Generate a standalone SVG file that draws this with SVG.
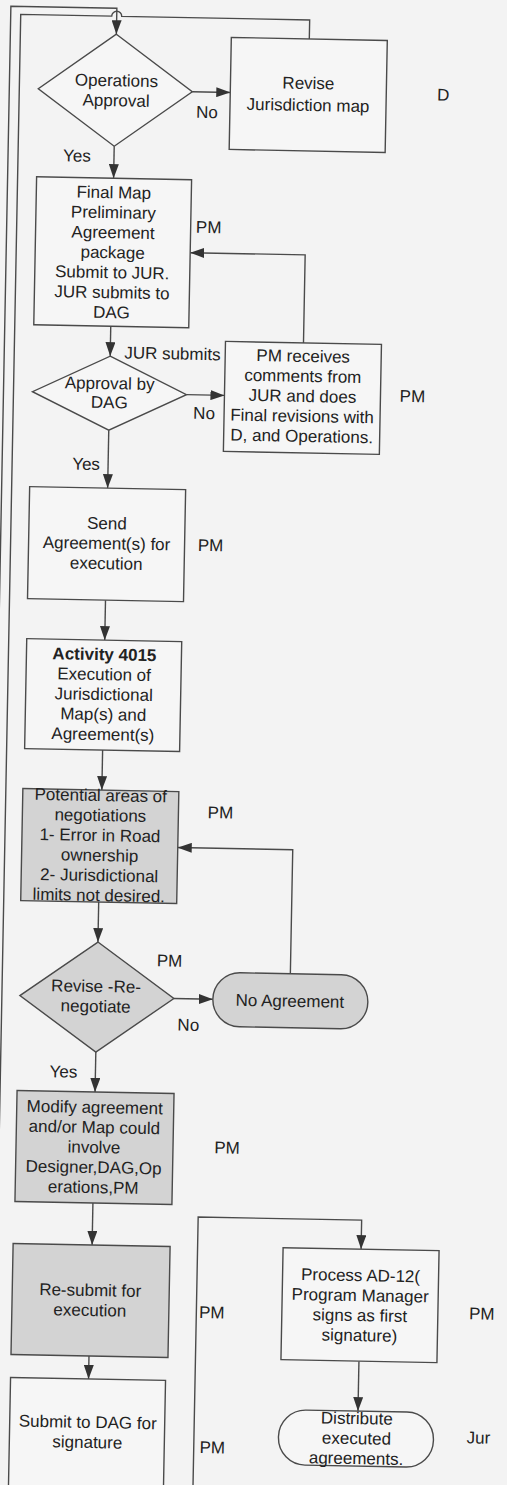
<svg xmlns="http://www.w3.org/2000/svg" width="507" height="1485" viewBox="0 0 507 1485">
<style>
.box{fill:#f6f6f6;stroke:#4a4a4a;stroke-width:1.4}
.gray{fill:#d3d3d3;stroke:#4a4a4a;stroke-width:1.4}
.t{font-family:"Liberation Sans",Arial,sans-serif;font-size:17px;fill:#222;text-anchor:middle}
.b{font-weight:bold}
.c{fill:none;stroke:#4a4a4a;stroke-width:1.4}
.a{marker-end:url(#ah)}
</style>
<defs>
<marker id="ah" markerWidth="14" markerHeight="10" refX="14" refY="5" orient="auto" markerUnits="userSpaceOnUse"><path d="M0,0 L14,5 L0,10 z" fill="#333"/></marker>
</defs>
<rect width="507" height="1485" fill="#f3f3f3"/>
<g transform="rotate(1.1)">
<g id="connectors">
<path class="c a" d="M117,144 V176"/>
<path class="c a" d="M194,88 H232"/>
<path class="c a" d="M117,324 V354"/>
<path class="c a" d="M194,391 H232"/>
<path class="c a" d="M310,337 V249 H195"/>
<path class="c a" d="M117,428 V486"/>
<path class="c a" d="M117,598 V638"/>
<path class="c a" d="M117,748 V788"/>
<path class="c a" d="M116,900 V940"/>
<path class="c a" d="M193,995 H232"/>
<path class="c a" d="M309,968 V844 H194"/>
<path class="c a" d="M116,1050 V1090"/>
<path class="c a" d="M116,1201 V1243"/>
<path class="c a" d="M115,1354 V1377"/>
<path class="c a" d="M221.5,1600 V1213 H385 V1242"/>
<path class="c a" d="M385,1354 V1404"/>
<path class="c a" d="M11,1600 V6 H117 V32"/>
<path class="c" d="M310,33 V14 H122 A5,5 0 0 0 112,14 H21 V1600"/>
<text class="t" x="209" y="114">No</text>
<text class="t" x="80" y="160">Yes</text>
<text class="t" x="131" y="356" style="text-anchor:start">JUR submits</text>
<text class="t" x="212" y="415">No</text>
<text class="t" x="95" y="468">Yes</text>
<text class="t" x="208" y="1027">No</text>
<text class="t" x="84" y="1076">Yes</text>
</g>
<g id="n-ops">
<polygon class="box" points="117,32 194,88 117,144 40,88"/>
<text class="t" x="118" y="84">Operations</text>
<text class="t" x="118" y="104">Approval</text>
</g>
<g id="n-revise">
<rect class="box" x="232" y="33" width="156" height="112"/>
<text class="t" x="310" y="83">Revise</text>
<text class="t" x="310" y="105">Jurisdiction map</text>
</g>
<g id="n-final">
<rect class="box" x="40" y="176" width="155" height="148"/>
<text class="t" x="117.5" y="196">Final Map</text>
<text class="t" x="117.5" y="216">Preliminary</text>
<text class="t" x="117.5" y="236">Agreement</text>
<text class="t" x="117.5" y="256">package</text>
<text class="t" x="117.5" y="276">Submit to JUR.</text>
<text class="t" x="117.5" y="296">JUR submits to</text>
<text class="t" x="117.5" y="316">DAG</text>
</g>
<g id="n-approval">
<polygon class="box" points="117,354 194,391 117,428 40,391"/>
<text class="t" x="117" y="387">Approval by</text>
<text class="t" x="117" y="406">DAG</text>
</g>
<g id="n-pmrec">
<rect class="box" x="232" y="337" width="156" height="110"/>
<text class="t" x="310" y="356">PM receives</text>
<text class="t" x="310" y="376">comments from</text>
<text class="t" x="310" y="396">JUR and does</text>
<text class="t" x="310" y="416">Final revisions with</text>
<text class="t" x="310" y="436">D, and Operations.</text>
</g>
<g id="n-send">
<rect class="box" x="39" y="486" width="156" height="112"/>
<text class="t" x="117" y="527">Send</text>
<text class="t" x="117" y="547">Agreement(s) for</text>
<text class="t" x="117" y="567">execution</text>
</g>
<g id="n-activity">
<rect class="box" x="39" y="638" width="155" height="110"/>
<text class="t b" x="117" y="658">Activity 4015</text>
<text class="t" x="117" y="678">Execution of</text>
<text class="t" x="117" y="698">Jurisdictional</text>
<text class="t" x="117" y="718">Map(s) and</text>
<text class="t" x="117" y="738">Agreement(s)</text>
</g>
<g id="n-potential">
<rect class="gray" x="38" y="788" width="156" height="112"/>
<text class="t" x="116" y="799">Potential areas of</text>
<text class="t" x="116" y="819">negotiations</text>
<text class="t" x="116" y="839">1- Error in Road</text>
<text class="t" x="116" y="859">ownership</text>
<text class="t" x="116" y="879">2- Jurisdictional</text>
<text class="t" x="116" y="899">limits not desired.</text>
</g>
<g id="n-renegotiate">
<polygon class="gray" points="116,940 193,995 116,1050 39,995"/>
<text class="t" x="115" y="990">Revise -Re-</text>
<text class="t" x="115" y="1010">negotiate</text>
</g>
<g id="n-noagreement">
<rect class="gray" x="232" y="968" width="155" height="54" rx="27"/>
<text class="t" x="309" y="1001">No Agreement</text>
</g>
<g id="n-modify">
<rect class="gray" x="38" y="1090" width="157" height="111"/>
<text class="t" x="116" y="1111">Modify agreement</text>
<text class="t" x="116" y="1131">and/or Map could</text>
<text class="t" x="116" y="1151">involve</text>
<text class="t" x="116" y="1171">Designer,DAG,Op</text>
<text class="t" x="116" y="1191">erations,PM</text>
</g>
<g id="n-resubmit">
<rect class="gray" x="37" y="1243" width="157" height="111"/>
<text class="t" x="115" y="1294">Re-submit for</text>
<text class="t" x="115" y="1314">execution</text>
</g>
<g id="n-submit">
<rect class="box" x="37" y="1377" width="155" height="150"/>
<text class="t" x="115" y="1426">Submit to DAG for</text>
<text class="t" x="115" y="1446">signature</text>
</g>
<g id="n-process">
<rect class="box" x="307" y="1242" width="156" height="112"/>
<text class="t" x="385" y="1274">Process AD-12(</text>
<text class="t" x="385" y="1294">Program Manager</text>
<text class="t" x="385" y="1314">signs as first</text>
<text class="t" x="385" y="1334">signature)</text>
</g>
<g id="n-distribute">
<rect class="box" x="306" y="1404" width="155" height="55" rx="27"/>
<text class="t" x="384" y="1417">Distribute</text>
<text class="t" x="384" y="1437">executed</text>
<text class="t" x="384" y="1457">agreements.</text>
</g>
<g id="roles">
<text class="t" x="445" y="92">D</text>
<text class="t" x="213" y="229">PM</text>
<text class="t" x="420" y="394">PM</text>
<text class="t" x="221" y="547">PM</text>
<text class="t" x="236" y="814">PM</text>
<text class="t" x="188" y="963">PM</text>
<text class="t" x="249" y="1149">PM</text>
<text class="t" x="237" y="1314">PM</text>
<text class="t" x="240" y="1449">PM</text>
<text class="t" x="507" y="1310">PM</text>
<text class="t" x="506" y="1434">Jur</text>
</g>
</g>
</svg>
